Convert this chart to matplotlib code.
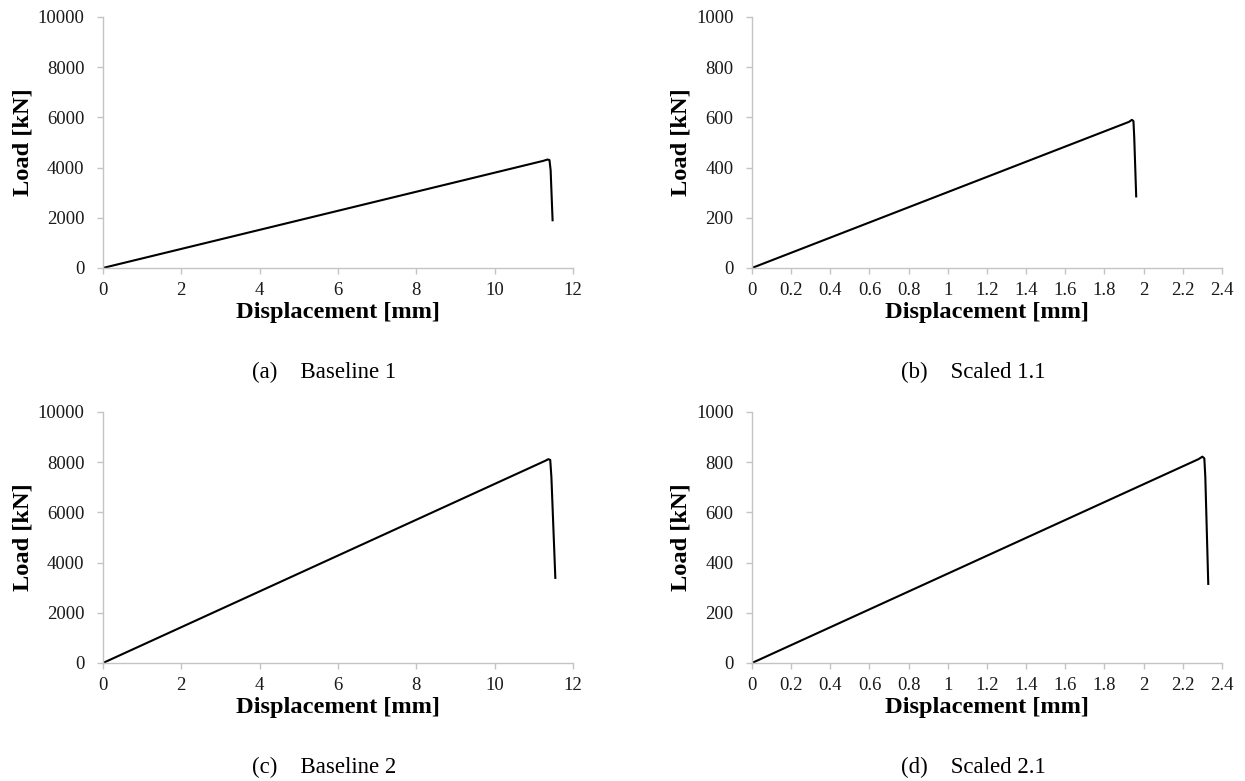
"""
Load-displacement curves for baseline and scaled specimens
"""
import matplotlib
matplotlib.use('Agg')
import matplotlib.pyplot as plt

plt.rcParams['font.family'] = ['Liberation Serif', 'DejaVu Serif']

# (a) Baseline 1
disp_a = [0, 11.25, 11.35, 11.40, 11.43, 11.48]
load_a = [0, 4270, 4320, 4300, 3900, 1900]
# (b) Scaled 1.1
disp_b = [0, 1.925, 1.94, 1.948, 1.952, 1.962]
load_b = [0, 582, 590, 585, 520, 285]
# (c) Baseline 2
disp_c = [0, 11.30, 11.37, 11.42, 11.45, 11.55]
load_c = [0, 8060, 8120, 8090, 7400, 3390]
# (d) Scaled 2.1
disp_d = [0, 2.28, 2.30, 2.31, 2.315, 2.33]
load_d = [0, 812, 822, 815, 740, 315]

captions = ['(a)    Baseline 1', '(b)    Scaled 1.1', '(c)    Baseline 2', '(d)    Scaled 2.1']

fig = plt.figure(figsize=(12.45, 7.81), dpi=100)

# axes positions in figure fractions
boxes = [
    [0.0827, 0.6569, 0.3775, 0.3214],
    [0.6040, 0.6569, 0.3775, 0.3214],
    [0.0827, 0.1511, 0.3775, 0.3214],
    [0.6040, 0.1511, 0.3775, 0.3214],
]
series = [(disp_a, load_a), (disp_b, load_b), (disp_c, load_c), (disp_d, load_d)]

for i, (box, (xs, ys)) in enumerate(zip(boxes, series)):
    ax = fig.add_axes(box)
    ax.plot(xs, ys, color='black', lw=1.5, solid_joinstyle='round')

    if i % 2 == 0:
        ax.set_xlim(0, 12)
        ax.set_xticks(range(0, 13, 2))
        ax.set_ylim(0, 10000)
        ax.set_yticks(range(0, 10001, 2000))
    else:
        ax.set_xlim(0, 2.4)
        ticks = [round(0.2 * k, 1) for k in range(13)]
        ax.set_xticks(ticks)
        ax.set_xticklabels(['%g' % t for t in ticks])
        ax.set_ylim(0, 1000)
        ax.set_yticks(range(0, 1001, 200))

    for side in ['top', 'right']:
        ax.spines[side].set_visible(False)
    for side in ['left', 'bottom']:
        ax.spines[side].set_color('#c4c4c4')
        ax.spines[side].set_linewidth(1.0)
    ax.tick_params(axis='both', colors='#c4c4c4', labelcolor='#1a1a1a',
                   labelsize=13.5, length=4.3, width=1.0, direction='out')
    ax.tick_params(axis='x', pad=6)
    ax.tick_params(axis='y', pad=9)

    ax.set_xlabel('Displacement [mm]', fontsize=17.6, fontweight='bold', labelpad=2)
    ax.set_ylabel('Load [kN]', fontsize=17.6, fontweight='bold', labelpad=3)

# captions under each panel
fig.text(324 / 1245, 1 - 372 / 781, captions[0], fontsize=16.5, va='center', ha='center')
fig.text(973 / 1245, 1 - 372 / 781, captions[1], fontsize=16.5, va='center', ha='center')
fig.text(324 / 1245, 1 - 767 / 781, captions[2], fontsize=16.5, va='center', ha='center')
fig.text(973 / 1245, 1 - 767 / 781, captions[3], fontsize=16.5, va='center', ha='center')

fig.savefig('out.png', dpi=100)
